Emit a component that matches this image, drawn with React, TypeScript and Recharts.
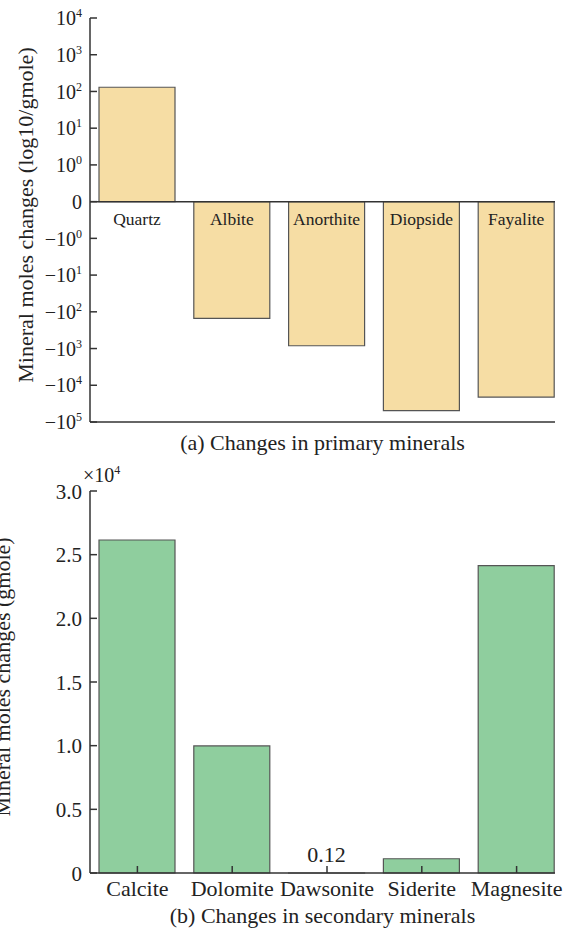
import React from 'react';
import { BarChart, Bar, XAxis, YAxis, ReferenceLine, LabelList } from 'recharts';

const FONT = '"Liberation Serif", "Times New Roman", serif';
const AXIS = '#333';

// (a) primary minerals, gmole (negative = dissolved)
const primaryMinerals = ['Quartz', 'Albite', 'Anorthite', 'Diopside', 'Fayalite'];
const primaryMoles = [130, -150, -840, -49000, -21000];
// tick positions on the symmetric log axis: ±k means ±10^(k-1), 0 means 0
const primaryTicks = [-6, -5, -4, -3, -2, -1, 0, 1, 2, 3, 4, 5];

// (b) secondary minerals, gmole
const secondaryMinerals = ['Calcite', 'Dolomite', 'Dawsonite', 'Siderite', 'Magnesite'];
const secondaryMoles = [26150, 9980, 0.12, 1120, 24140];
const secondaryTicks = [0, 5000, 10000, 15000, 20000, 25000, 30000];

const toLogPos = (v: number) => (v === 0 ? 0 : Math.sign(v) * (Math.log10(Math.abs(v)) + 1));

const primaryData = primaryMinerals.map((name, i) => ({ name, pos: toLogPos(primaryMoles[i]) }));
const secondaryData = secondaryMinerals.map((name, i) => ({ name, value: secondaryMoles[i] }));

const LogTick = (props: any) => {
    const { x, y, payload } = props;
    const p = payload.value as number;
    return (
        <g>
            <line x1={x + 8} x2={x + 15} y1={y} y2={y} stroke={AXIS} strokeWidth={1.5} />
            <text x={x} y={y} dy="0.36em" textAnchor="end" fontSize={20} fontFamily={FONT} fill="#222">
                {p === 0 ? (
                    '0'
                ) : (
                    <>
                        <tspan>{(p < 0 ? '\u2212' : '') + '10'}</tspan>
                        <tspan dy={-8} fontSize={12}>{Math.abs(p) - 1}</tspan>
                    </>
                )}
            </text>
        </g>
    );
};

const LinearTick = (props: any) => {
    const { x, y, payload } = props;
    const v = payload.value as number;
    return (
        <g>
            <line x1={x + 8} x2={x + 15} y1={y} y2={y} stroke={AXIS} strokeWidth={1.5} />
            <text x={x} y={y} dy="0.36em" textAnchor="end" fontSize={21} fontFamily={FONT} fill="#222">
                {v === 0 ? '0' : (v / 10000).toFixed(1)}
            </text>
        </g>
    );
};

const CategoryTick = (props: any) => {
    const { x, y, payload } = props;
    const axisY = y - 8;
    return (
        <g>
            <line x1={x} x2={x} y1={axisY} y2={axisY - 7} stroke={AXIS} strokeWidth={1.5} />
            <text x={x} y={axisY + 23} textAnchor="middle" fontSize={22} fontFamily={FONT} fill="#222">
                {payload.value}
            </text>
        </g>
    );
};

// mineral names sit just under the zero line
const NameLabel = (props: any) => {
    const vb = props.viewBox || props;
    const { x, y, width, height } = vb;
    const i = props.index;
    const zeroY = primaryMoles[i] >= 0 ? Math.max(y, y + height) : Math.min(y, y + height);
    return (
        <text x={x + width / 2} y={zeroY + 23} textAnchor="middle" fontSize={17.5} fontFamily={FONT} fill="#222">
            {primaryMinerals[i]}
        </text>
    );
};

const SmallValueLabel = (props: any) => {
    const vb = props.viewBox || props;
    const { x, y, width, height } = vb;
    const i = props.index;
    if (secondaryMoles[i] >= 1) return null;
    return (
        <text x={x + width / 2} y={Math.max(y, y + height) - 11.5} textAnchor="middle" fontSize={22} fontFamily={FONT} fill="#222">
            {secondaryMoles[i]}
        </text>
    );
};

const yTitle = (text: string, cx: number) => (props: any) => {
    const vb = props.viewBox;
    const cy = vb.y + vb.height / 2 - 5;
    return (
        <text
            x={cx}
            y={cy}
            dy="0.35em"
            transform={`rotate(-90, ${cx}, ${cy})`}
            textAnchor="middle"
            fontSize={22}
            fontFamily={FONT}
            fill="#222"
        >
            {text}
        </text>
    );
};

const caption = (text: string, dy: number) => (props: any) => {
    const vb = props.viewBox;
    return (
        <text x={vb.x + vb.width / 2} y={vb.y + dy} textAnchor="middle" fontSize={22} fontFamily={FONT} fill="#222">
            {text}
        </text>
    );
};

const App: React.FC = () => {
    return (
        <div style={{ position: 'absolute', left: 0, top: 0, width: 564, height: 932, background: '#fff', overflow: 'hidden' }}>
            <div style={{ position: 'absolute', left: 0, top: 0 }}>
                <BarChart width={564} height={460} data={primaryData} margin={{ top: 18, right: 9, left: 0, bottom: 0 }}>
                    <YAxis
                        type="number"
                        domain={[-6, 5]}
                        ticks={primaryTicks}
                        interval={0}
                        width={90}
                        tickSize={6}
                        tickMargin={2}
                        tickLine={false}
                        axisLine={{ stroke: AXIS, strokeWidth: 1.5 }}
                        tick={<LogTick />}
                        label={{ content: yTitle('Mineral moles changes (log10/gmole)', 25) }}
                    />
                    <Bar dataKey="pos" fill="#f6dda4" stroke="#555" strokeWidth={1.2} barSize={76} isAnimationActive={false}>
                        <LabelList dataKey="name" content={<NameLabel />} />
                    </Bar>
                    <ReferenceLine y={0} stroke={AXIS} strokeWidth={1.5} />
                    <XAxis
                        dataKey="name"
                        height={38}
                        padding={{ left: 0, right: -9 }}
                        tick={false}
                        tickLine={false}
                        axisLine={{ stroke: AXIS, strokeWidth: 1.5 }}
                        label={{ content: caption('(a) Changes in primary minerals', 28) }}
                    />
                </BarChart>
            </div>
            <div
                style={{
                    position: 'absolute',
                    left: 83,
                    top: 460,
                    fontFamily: FONT,
                    fontSize: 20,
                    lineHeight: '20px',
                    color: '#222',
                    whiteSpace: 'nowrap',
                }}
            >
                ×10<span style={{ fontSize: 12, verticalAlign: 8 }}>4</span>
            </div>
            <div style={{ position: 'absolute', left: 0, top: 455 }}>
                <BarChart width={564} height={477} data={secondaryData} margin={{ top: 36, right: 9, left: 0, bottom: 0 }}>
                    <YAxis
                        type="number"
                        domain={[0, 30000]}
                        ticks={secondaryTicks}
                        interval={0}
                        width={90}
                        tickSize={6}
                        tickMargin={2}
                        tickLine={false}
                        axisLine={{ stroke: AXIS, strokeWidth: 1.5 }}
                        tick={<LinearTick />}
                        label={{ content: yTitle('Mineral moles changes (gmole)', 2) }}
                    />
                    <Bar dataKey="value" fill="#8fce9e" stroke="#555" strokeWidth={1.2} barSize={76} isAnimationActive={false}>
                        <LabelList dataKey="value" content={<SmallValueLabel />} />
                    </Bar>
                    <XAxis
                        dataKey="name"
                        height={59}
                        padding={{ left: 0, right: -9 }}
                        tickSize={6}
                        tickMargin={2}
                        tickLine={false}
                        interval={0}
                        axisLine={{ stroke: AXIS, strokeWidth: 1.5 }}
                        tick={<CategoryTick />}
                        label={{ content: caption('(b) Changes in secondary minerals', 50) }}
                    />
                </BarChart>
            </div>
        </div>
    );
};

export default App;
